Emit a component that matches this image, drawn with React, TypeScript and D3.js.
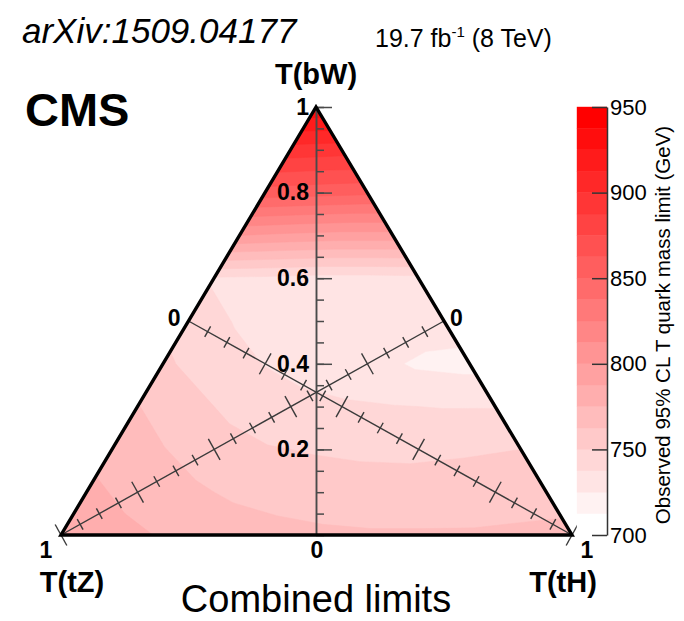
import React, { useRef, useEffect } from 'react';
import * as d3 from 'd3';

const W = 684;
const H = 621;

// step of the branching-fraction grid
const gridStep = 0.1;

// Observed 95% CL T mass limit (GeV). One row per B(bW) = 0.0 ... 1.0,
// entries run over B(tH) = 0.0, 0.1, ... up to 1 - B(bW)
const limitBW00 = [786, 779, 774, 770, 767, 765, 764, 764, 764, 765, 767];
const limitBW01 = [778, 771, 765, 760, 757, 755, 754, 754, 755, 757];
const limitBW02 = [770, 763, 756, 751, 749, 748, 748, 749, 750];
const limitBW03 = [763, 754, 746, 741, 739, 738, 737, 737];
const limitBW04 = [752, 744, 737, 733, 730, 723, 721];
const limitBW05 = [745, 736, 731, 729, 729, 730];
const limitBW06 = [736, 735, 733, 733, 734];
const limitBW07 = [800, 797, 795, 795];
const limitBW08 = [857, 855, 853];
const limitBW09 = [895, 893];
const limitBW10 = [935];
const limitRows = [limitBW00, limitBW01, limitBW02, limitBW03, limitBW04, limitBW05,
  limitBW06, limitBW07, limitBW08, limitBW09, limitBW10];

const contourLevels = d3.range(700, 950, 12.5);
const paletteTicks = [700, 750, 800, 850, 900, 950];
const axisLabels = [0.2, 0.4, 0.6, 0.8, 1];
const axisTicks = d3.range(0, 1.0001, 0.05);

const App = () => {
  const svgRef = useRef(null);

  useEffect(() => {
    const svg = d3.select(svgRef.current);
    svg.selectAll('*').remove();
    svg.attr('width', W).attr('height', H)
      .style('font-family', '"Liberation Sans", Arial, Helvetica, sans-serif')
      .style('display', 'block');

    // triangle corners: T(bW) on top, T(tZ) bottom left, T(tH) bottom right
    const apex = [316, 107];
    const cornerL = [61, 535];
    const cornerR = [572, 535];

    const toPx = (bw, th) => [
      cornerL[0] + bw * (apex[0] - cornerL[0]) + th * (cornerR[0] - cornerL[0]),
      cornerL[1] + bw * (apex[1] - cornerL[1]) + th * (cornerR[1] - cornerL[1]),
    ];

    // build a square grid (x = B(tH), y = B(bW)); cells past the hypotenuse repeat the edge value
    const n = limitRows.length;
    const grid = [];
    for (let j = 0; j < n; j++) {
      const row = limitRows[j];
      for (let i = 0; i < n; i++) grid.push(row[Math.min(i, row.length - 1)]);
    }

    const color = d3.scaleLinear()
      .domain([700, 937.5])
      .range(['#ffffff', '#ff0000'])
      .interpolate(d3.interpolateRgb)
      .clamp(true);

    const contours = d3.contours().size([n, n]).thresholds(contourLevels)(grid);

    const proj = d3.geoTransform({
      point(x, y) {
        const p = toPx((y - 0.5) * gridStep, (x - 0.5) * gridStep);
        this.stream.point(p[0], p[1]);
      },
    });
    const geo = d3.geoPath(proj);

    const triPts = [apex, cornerL, cornerR].map(p => p.join(',')).join(' ');
    svg.append('defs').append('clipPath').attr('id', 'tri')
      .append('polygon').attr('points', triPts);

    svg.append('g').attr('clip-path', 'url(#tri)')
      .selectAll('path').data(contours).join('path')
      .attr('d', geo)
      .attr('fill', d => color(d.value))
      .attr('stroke', d => color(d.value))
      .attr('stroke-width', 0.5);

    // vertical B(bW) axis
    const yScale = d3.scaleLinear().domain([0, 1]).range([cornerL[1], apex[1]]);
    const yAx = svg.append('g').attr('transform', `translate(${apex[0]},0)`);
    yAx.append('g')
      .call(d3.axisLeft(yScale).tickValues(axisTicks).tickSizeInner(-8).tickSizeOuter(0).tickFormat(''));
    yAx.append('g')
      .call(d3.axisLeft(yScale).tickValues(axisLabels).tickSizeInner(-16).tickSizeOuter(0)
        .tickPadding(7).tickFormat(d3.format('~g')));
    yAx.selectAll('path, line').attr('stroke', '#4a4a4a').attr('stroke-width', 1.5);
    yAx.selectAll('text')
      .attr('fill', '#000').attr('font-size', 23).attr('font-weight', 'bold')
      .attr('font-family', '"Liberation Sans", Arial, sans-serif');

    // diagonal axes, 0 at the middle of the opposite edge, 1 at the corner
    const diag = (from, to) => {
      const sx = d3.scaleLinear().domain([0, 1]).range([from[0], to[0]]);
      const sy = d3.scaleLinear().domain([0, 1]).range([from[1], to[1]]);
      const len = Math.hypot(to[0] - from[0], to[1] - from[1]);
      const nx = -(to[1] - from[1]) / len;
      const ny = (to[0] - from[0]) / len;
      const g = svg.append('g').attr('stroke', '#3a3a3a').attr('stroke-width', 1.4);
      g.append('line')
        .attr('x1', sx(0)).attr('y1', sy(0)).attr('x2', sx(1)).attr('y2', sy(1));
      g.selectAll('line.tk').data(axisTicks).join('line').attr('class', 'tk')
        .attr('x1', (d, i) => sx(d) - nx * (i % 4 === 0 ? 12 : 6))
        .attr('y1', (d, i) => sy(d) - ny * (i % 4 === 0 ? 12 : 6))
        .attr('x2', (d, i) => sx(d) + nx * (i % 4 === 0 ? 12 : 6))
        .attr('y2', (d, i) => sy(d) + ny * (i % 4 === 0 ? 12 : 6));
    };
    const midR = [(apex[0] + cornerR[0]) / 2, (apex[1] + cornerR[1]) / 2];
    const midL = [(apex[0] + cornerL[0]) / 2, (apex[1] + cornerL[1]) / 2];
    diag(midR, cornerL);
    diag(midL, cornerR);

    // triangle frame
    svg.append('polygon').attr('points', triPts)
      .attr('fill', 'none').attr('stroke', '#000').attr('stroke-width', 3.4);

    // end labels of the axes
    const endLabel = (x, y, t, anchor) => svg.append('text')
      .attr('x', x).attr('y', y).attr('text-anchor', anchor)
      .attr('font-size', 23).attr('font-weight', 'bold').text(t);
    endLabel(apex[0] + 1, 558, '0', 'middle');
    endLabel(midL[0] - 8, midL[1] + 5, '0', 'end');
    endLabel(midR[0] + 6, midR[1] + 5, '0', 'start');
    endLabel(cornerL[0] - 15, 558, '1', 'middle');
    endLabel(cornerR[0] + 15, 558, '1', 'middle');

    // corner titles
    const cornerTitle = (x, y, t) => svg.append('text')
      .attr('x', x).attr('y', y).attr('text-anchor', 'middle')
      .attr('font-size', 29).attr('font-weight', 'bold').text(t);
    cornerTitle(apex[0], 84, 'T(bW)');
    cornerTitle(72, 592, 'T(tZ)');
    cornerTitle(563, 592, 'T(tH)');

    svg.append('text').attr('x', 316).attr('y', 612).attr('text-anchor', 'middle')
      .attr('font-size', 38).text('Combined limits');

    svg.append('text').attr('x', 25).attr('y', 126)
      .attr('font-size', 47).attr('font-weight', 'bold').text('CMS');

    svg.append('text').attr('x', 22).attr('y', 43)
      .attr('font-size', 35).attr('font-style', 'italic').text('arXiv:1509.04177');

    const lumi = svg.append('text').attr('x', 375).attr('y', 47).attr('font-size', 25);
    lumi.append('tspan').text('19.7 fb');
    lumi.append('tspan').attr('font-size', 15).attr('dy', -10).text('-1');
    lumi.append('tspan').attr('dy', 10).text(' (8 TeV)');

    // palette
    const cScale = d3.scaleLinear().domain([700, 950]).range([cornerL[1], apex[1]]);
    const barX = 577;
    const barW = 30;
    svg.append('g').selectAll('rect').data(contourLevels).join('rect')
      .attr('x', barX).attr('width', barW)
      .attr('y', d => cScale(d + 12.5))
      .attr('height', d => cScale(d) - cScale(d + 12.5))
      .attr('fill', d => color(d))
      .attr('stroke', d => color(d)).attr('stroke-width', 0.4);

    const cAx = svg.append('g').attr('transform', `translate(${barX + barW},0)`)
      .call(d3.axisRight(cScale).tickValues(paletteTicks).tickSizeInner(-15).tickSizeOuter(0)
        .tickPadding(3).tickFormat(d3.format('d')));
    cAx.selectAll('path, line').attr('stroke', '#333').attr('stroke-width', 1.5);
    cAx.selectAll('text').attr('fill', '#000').attr('font-size', 22)
      .attr('font-family', '"Liberation Sans", Arial, sans-serif');

    svg.append('text')
      .attr('transform', `translate(670,${(cornerL[1] + apex[1]) / 2 + 4}) rotate(-90)`)
      .attr('text-anchor', 'middle').attr('font-size', 20.5)
      .text('Observed 95% CL T quark mass limit (GeV)');
  }, []);

  return (
    <div style={{ position: 'absolute', left: 0, top: 0 }}>
      <svg ref={svgRef}></svg>
    </div>
  );
};

export default App;
